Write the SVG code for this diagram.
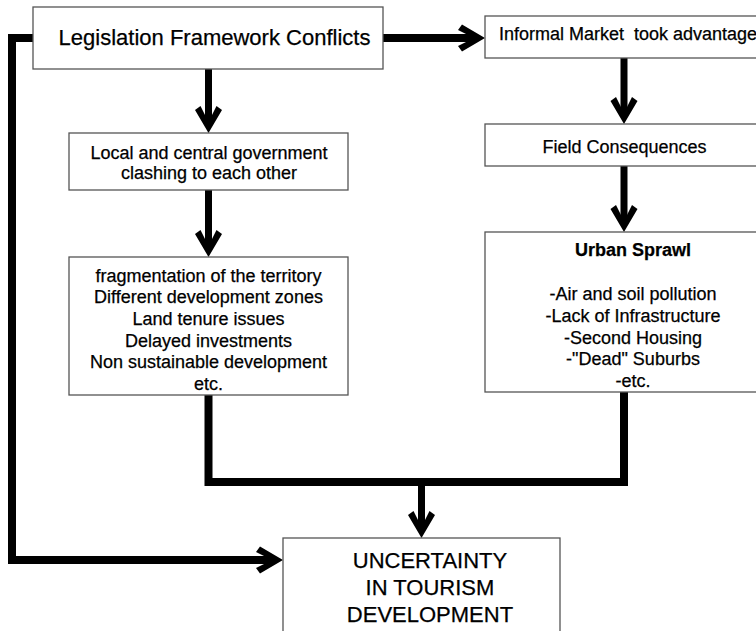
<svg xmlns="http://www.w3.org/2000/svg" width="756" height="631" viewBox="0 0 756 631">
<style>
.box{fill:#fff;stroke:#555;stroke-width:1.3}
.t{font-family:"Liberation Sans",Arial,sans-serif;fill:#000;text-anchor:middle;stroke:#000;stroke-width:0.25}
.s18{font-size:18px}
.s22{font-size:22px}
.b{font-weight:bold}
.ln{fill:none;stroke:#000;stroke-width:8;stroke-linejoin:miter}
.lv{fill:none;stroke:#000;stroke-width:7;stroke-linejoin:miter}
</style>
<defs>
<marker id="ah" markerUnits="userSpaceOnUse" markerWidth="40" markerHeight="40" viewBox="-20 -20 40 40" refX="0" refY="0" orient="auto" overflow="visible">
<polygon points="8,0 -15,-13.5 -19,-8 -3,0 -19,8 -15,13.5" fill="#000"/>
</marker>
</defs>
<rect width="756" height="631" fill="#fff"/>
<g id="connectors">
<polyline class="ln" points="33,38 12,38 12,560 275,560" marker-end="url(#ah)"/>
<line class="ln" x1="383" y1="38" x2="477" y2="38" marker-end="url(#ah)"/>
<line class="lv" x1="208.5" y1="68" x2="208.5" y2="125" marker-end="url(#ah)"/>
<line class="lv" x1="208.5" y1="190" x2="208.5" y2="249" marker-end="url(#ah)"/>
<line class="lv" x1="624" y1="58" x2="624" y2="116" marker-end="url(#ah)"/>
<line class="lv" x1="624" y1="166" x2="624" y2="224" marker-end="url(#ah)"/>
<polyline class="ln" points="208.5,395 208.5,482 624,482 624,392"/>
<line class="lv" x1="421.5" y1="482" x2="421.5" y2="530" marker-end="url(#ah)"/>
</g>
<g id="legislation">
<rect class="box" x="33" y="7" width="350" height="62"/>
<text class="t s22" x="214.5" y="45">Legislation Framework Conflicts</text>
</g>
<g id="government">
<rect class="box" x="69" y="133" width="279" height="57"/>
<text class="t s18" x="209" y="159">Local and central government</text>
<text class="t s18" x="209" y="179">clashing to each other</text>
</g>
<g id="fragmentation">
<rect class="box" x="69" y="257" width="279" height="138"/>
<text class="t s18" x="208.5" y="281.5">fragmentation of the territory</text>
<text class="t s18" x="208.5" y="303.2">Different development zones</text>
<text class="t s18" x="208.5" y="324.9">Land tenure issues</text>
<text class="t s18" x="208.5" y="346.6">Delayed investments</text>
<text class="t s18" x="208.5" y="368.3">Non sustainable development</text>
<text class="t s18" x="208.5" y="390">etc.</text>
</g>
<g id="informal">
<rect class="box" x="485" y="16" width="290" height="42"/>
<text class="t s18" x="499" y="40" style="text-anchor:start;white-space:pre" xml:space="preserve">Informal Market  took advantage</text>
</g>
<g id="field">
<rect class="box" x="485" y="124" width="290" height="42"/>
<text class="t s18" x="624.5" y="153">Field Consequences</text>
</g>
<g id="sprawl">
<rect class="box" x="485" y="232" width="296" height="160"/>
<text class="t s18 b" x="633" y="256">Urban Sprawl</text>
<text class="t s18" x="633" y="300">-Air and soil pollution</text>
<text class="t s18" x="633" y="321.8">-Lack of Infrastructure</text>
<text class="t s18" x="633" y="343.6">-Second Housing</text>
<text class="t s18" x="633" y="365.4">-"Dead" Suburbs</text>
<text class="t s18" x="633" y="387.2">-etc.</text>
</g>
<g id="uncertainty">
<rect class="box" x="283" y="538" width="277" height="100"/>
<text class="t s22" x="430" y="568">UNCERTAINTY</text>
<text class="t s22" x="430" y="595">IN TOURISM</text>
<text class="t s22" x="430" y="622">DEVELOPMENT</text>
</g>
</svg>
